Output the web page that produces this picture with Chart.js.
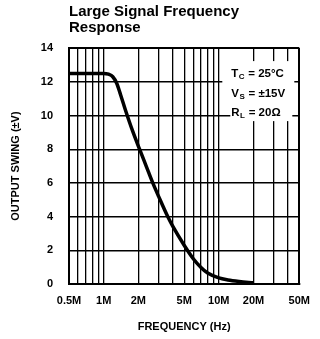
<!DOCTYPE html>
<html><head><meta charset="utf-8">
<script src="https://cdn.jsdelivr.net/npm/chart.js@4"></script>
<style>html,body{margin:0;padding:0;background:#fff}#wrap{width:320px;height:339px}</style>
</head><body><div id="wrap"><canvas id="c" width="320" height="339"></canvas></div>
<script>
const freqMHz = [0.5, 0.8, 1.0, 1.1, 1.2, 1.3, 1.4, 1.55, 1.78, 2.05, 2.34, 2.67, 3.0, 3.6, 4.0, 5.0, 6.0, 7.0, 8.0, 10, 12, 15, 20];
const swingV  = [12.5, 12.5, 12.5, 12.45, 12.3, 11.9, 11.25, 10.3, 9.1, 8.0, 7.0, 6.0, 5.2, 4.0, 3.4, 2.3, 1.5, 0.98, 0.65, 0.36, 0.24, 0.15, 0.07];
const xGridMHz = [0.5,0.6,0.7,0.8,0.9,1,2,3,4,5,6,7,8,9,10,20,30,40,50];
const xTickMHz = [0.5,1,2,5,10,20,50];
const xTickLabels = ['0.5M','1M','2M','5M','10M','20M','50M'];
const yTicks = [0,2,4,6,8,10,12,14];
const titleLines = ['Large Signal Frequency','Response'];
const xTitle = 'FREQUENCY (Hz)';
const yTitle = 'OUTPUT SWING (\u00B1V)';
const conditions = [['T','C',' = 25\u00B0C'],['V','S',' = \u00B115V'],['R','L',' = 20\u03A9']];

const FAM = "'Liberation Sans', Arial, Helvetica, sans-serif";

const condPlugin = {
  id: 'cond',
  afterDraw(chart) {
    const ctx = chart.ctx, a = chart.chartArea;
    ctx.save();
    ctx.fillStyle = '#fff';
    ctx.fillRect(a.right - 77, a.top + 13, 72, 43);
    ctx.fillRect(a.right - 69, a.top + 55, 62, 18);
    ctx.fillStyle = '#000';
    ctx.textBaseline = 'alphabetic';
    const x0 = a.right - 68;
    const base = [a.top + 29, a.top + 49, a.top + 68];
    conditions.forEach((c, i) => {
      let x = x0;
      ctx.font = 'bold 11.5px ' + FAM;
      ctx.fillText(c[0], x, base[i]);
      x += ctx.measureText(c[0]).width + 0.5;
      ctx.font = 'bold 8px ' + FAM;
      ctx.fillText(c[1], x, base[i] + 2);
      x += ctx.measureText(c[1]).width + 0.5;
      ctx.font = 'bold 11.5px ' + FAM;
      ctx.fillText(c[2], x, base[i]);
    });
    ctx.restore();
  }
};

new Chart(document.getElementById('c'), {
  type: 'line',
  data: {
    datasets: [{
      data: freqMHz.map((f, i) => ({x: f, y: swingV[i]})),
      borderColor: '#000',
      borderWidth: 3.5,
      pointRadius: 0,
      fill: false,
      cubicInterpolationMode: 'monotone'
    }]
  },
  options: {
    responsive: false,
    animation: false,
    devicePixelRatio: 1,
    layout: {padding: {left: 0, right: 20, top: 0, bottom: 0}},
    plugins: {
      legend: {display: false},
      tooltip: {enabled: false},
      title: {
        display: true, text: titleLines, align: 'start', fullSize: false, color: '#000',
        font: {family: FAM, size: 15, weight: 'bold', lineHeight: 1.07},
        padding: {top: 4, bottom: 12}
      }
    },
    scales: {
      x: {
        type: 'logarithmic', min: 0.5, max: 50,
        afterBuildTicks: s => { s.ticks = xGridMHz.map(v => ({value: v})); },
        afterFit: s => { s.height = 55; },
        grid: {color: '#000', lineWidth: c => c.index === xGridMHz.length - 1 ? 2 : 1.3, drawTicks: false},
        border: {display: true, color: '#000', width: 2},
        ticks: {
          autoSkip: false, maxRotation: 0, padding: 10, color: '#000',
          font: {family: FAM, size: 11, weight: 'bold'},
          callback: v => { const k = xTickMHz.indexOf(v); return k >= 0 ? xTickLabels[k] : ''; }
        },
        title: {display: true, text: xTitle, color: '#000', font: {family: FAM, size: 11, weight: 'bold'}, padding: {top: 0, bottom: 5}}
      },
      y: {
        min: 0, max: 14,
        afterBuildTicks: s => { s.ticks = yTicks.map(v => ({value: v})); },
        afterFit: s => { s.width = 69; },
        grid: {color: '#000', lineWidth: c => c.index === yTicks.length - 1 ? 2 : 1.4, drawTicks: false},
        border: {display: true, color: '#000', width: 2},
        ticks: {padding: 16, color: '#000', font: {family: FAM, size: 11, weight: 'bold'}},
        title: {display: true, text: yTitle, color: '#000', font: {family: FAM, size: 11, weight: 'bold'}, padding: {top: 9, bottom: 0}}
      }
    }
  },
  plugins: [condPlugin]
});
</script>
</body></html>
